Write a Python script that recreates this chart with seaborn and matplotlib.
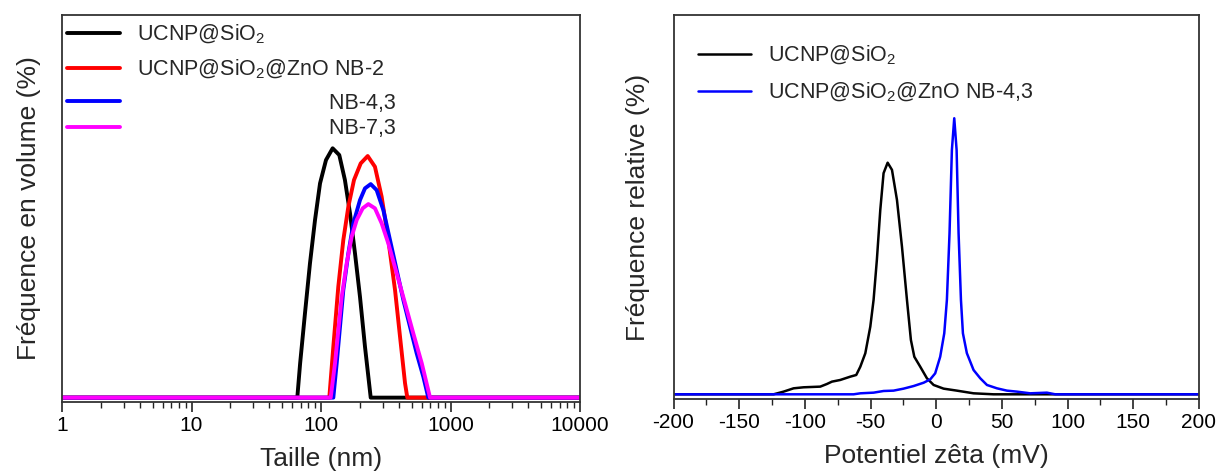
import numpy as np
import pandas as pd
import matplotlib
matplotlib.use("Agg")
import matplotlib.pyplot as plt
import seaborn as sns
from matplotlib.ticker import LogLocator, MultipleLocator, NullFormatter, FixedLocator
from matplotlib.lines import Line2D

# ---------------- data (left: DLS volume distribution) ----------------
size_black = [1, 65.6, 69, 75.2, 82.2, 89.9, 98.3, 109.3, 123, 138.4, 153, 167.5, 183, 200, 218.6, 242, 10000]
vol_black = [0, 0, 2.75, 6.75, 10.76, 14.23, 17.17, 19.04, 19.98, 19.44, 17.44, 14.77, 11.56, 8.08, 4.08, 0, 0]

size_red = [1, 115.9, 124.5, 136, 148.7, 162.6, 179.8, 202.6, 229.4, 261, 294, 331, 373, 407.6, 445.6, 464, 10000]
vol_red = [0, 0, 4.08, 8.89, 12.63, 15.3, 17.44, 18.77, 19.36, 18.5, 16.1, 12.63, 8.62, 4.88, 1.15, 0, 0]

size_blue = [1, 124.5, 132.2, 140.2, 148.7, 162.6, 177.8, 200, 218.6, 242, 269, 303, 341, 384, 432.5, 486.8, 548, 617, 674, 10000]
vol_blue = [0, 0, 2.75, 5.68, 8.62, 11.56, 13.97, 15.83, 16.77, 17.11, 16.63, 15.03, 12.63, 10.22, 7.82, 5.68, 3.55, 1.67, 0, 0]

size_mag = [1, 118.8, 128.3, 136.2, 144.5, 157.9, 172.6, 188.6, 209.9, 232, 261, 294, 331, 384, 445.6, 516, 600, 695, 10000]
vol_mag = [0, 0, 2.75, 5.42, 8.08, 10.76, 12.9, 14.23, 15.17, 15.51, 15.17, 13.97, 12.36, 9.96, 7.56, 5.15, 2.75, 0, 0]

# ---------------- data (right: zeta potential) ----------------
zeta_black = [-200, -123.8, -116.2, -108.6, -101, -88.3, -83.2, -79.4, -73.1, -65.4, -60.9, -57.8, -54, -50.2,
              -47.7, -45.2, -42.6, -40.1, -37, -33.7, -29.9, -26.1, -22.3, -19.3, -16.7, -12.2, -7.1, -2,
              5.6, 15.7, 28.4, 43.6, 200]
freq_black = [0, 0, 0.97, 2.17, 2.54, 2.78, 3.74, 4.59, 5.19, 6.4, 7.0, 10.0, 14.86, 24.5,
              34.2, 48.7, 66.8, 80.1, 83.9, 81.3, 70.4, 53.5, 34.2, 19.7, 13.6, 10.0, 5.8, 3.38,
              2.05, 1.33, 0.36, 0, 0]

zeta_blue = [-200, -62.9, -57.8, -47.7, -40.1, -32.5, -24.9, -17.2, -9.6, -4.6, -0.8, 3.0, 6.1, 8.1, 10.1,
             11.9, 13.7, 15.5, 17.0, 18.8, 20.3, 23.3, 28.4, 33.5, 38.6, 46.2, 53.8, 61.4, 71.5, 84.2, 90.6, 200]
freq_blue = [0, 0, 0.36, 0.6, 1.2, 1.33, 2.05, 3.0, 4.2, 5.4, 7.6, 13.6, 22.1, 34.2, 58.3,
             88.5, 100, 88.5, 58.3, 34.2, 22.1, 14.9, 8.8, 5.8, 3.38, 2.17, 1.33, 0.97, 0.36, 0.6, 0, 0]

left_labels = ["UCNP@SiO$_\\mathregular{2}$", "UCNP@SiO$_\\mathregular{2}$@ZnO NB-2",
               " " * 32 + "NB-4,3", " " * 32 + "NB-7,3"]
right_labels = ["UCNP@SiO$_\\mathregular{2}$", "UCNP@SiO$_\\mathregular{2}$@ZnO NB-4,3"]
left_colors = ["#000000", "#ff0000", "#0000ff", "#ff00ff"]
right_colors = ["#000000", "#0000ff"]
left_ticks = [1, 10, 100, 1000, 10000]
left_ticklabels = ["1", "10", "100", "1000", "10000"]
right_ticks = [-200, -150, -100, -50, 0, 50, 100, 150, 200]

# ---------------- style ----------------
sns.set_theme(style="ticks")
plt.rcParams["font.family"] = ["Liberation Sans", "DejaVu Sans"]
plt.rcParams["mathtext.fontset"] = "custom"
plt.rcParams["mathtext.rm"] = "Liberation Sans"
plt.rcParams["mathtext.it"] = "Liberation Sans"
plt.rcParams["mathtext.bf"] = "Liberation Sans:bold"

W, H = 1217, 474
fig = plt.figure(figsize=(W / 100, H / 100), dpi=100)
axL = fig.add_axes([62 / W, (H - 402) / H, (580 - 62) / W, (402 - 15) / H])
axR = fig.add_axes([673.5 / W, (H - 399) / H, (1199 - 673.5) / W, (399 - 15) / H])

FS_TICK = 15
FS_LAB = 19
FS_LEG = 15.5


def fig_xy(px, py):
    return (px / W, (H - py) / H)


# left panel
series_left = [(size_black, vol_black), (size_red, vol_red), (size_blue, vol_blue), (size_mag, vol_mag)]
for (xs, ys), c in zip(series_left, left_colors):
    df = pd.DataFrame({"x": xs, "y": ys})
    sns.lineplot(data=df, x="x", y="y", ax=axL, color=c, lw=2.8, sort=False, estimator=None)
axL.set_xscale("log")
axL.set_xlim(1, 10000)
axL.set_ylim(-0.35, 30.66)
axL.xaxis.set_major_locator(FixedLocator(left_ticks))
axL.set_xticklabels(left_ticklabels)
axL.xaxis.set_minor_locator(LogLocator(base=10, subs=np.arange(2, 10)))
axL.xaxis.set_minor_formatter(NullFormatter())
axL.set_yticks([])
axL.set_xlabel("Taille (nm)", fontsize=FS_LAB, labelpad=9)
axL.set_ylabel("Fréquence en volume (%)", fontsize=FS_LAB, labelpad=15)
handlesL = [Line2D([], [], color=c, lw=2.8) for c in left_colors]
legA = axL.legend(handlesL[:2], left_labels[:2], loc="center left", bbox_to_anchor=fig_xy(67, 52),
                  bbox_transform=fig.transFigure, frameon=False, fontsize=FS_LEG, handlelength=2.45,
                  handletextpad=0.8, labelspacing=0.58, borderaxespad=0, borderpad=0)
axL.add_artist(legA)
axL.legend(handlesL[2:], left_labels[2:], loc="center left", bbox_to_anchor=fig_xy(67, 116),
           bbox_transform=fig.transFigure, frameon=False, fontsize=FS_LEG, handlelength=2.45,
           handletextpad=0.8, labelspacing=0.21, borderaxespad=0, borderpad=0)

# right panel
series_right = [(zeta_black, freq_black), (zeta_blue, freq_blue)]
for (xs, ys), c in zip(series_right, right_colors):
    df = pd.DataFrame({"x": xs, "y": ys})
    sns.lineplot(data=df, x="x", y="y", ax=axR, color=c, lw=1.8, sort=False, estimator=None)
axR.set_xlim(-200, 200)
axR.set_ylim(-1.7, 137.4)
axR.set_xticks(right_ticks)
axR.set_xticklabels([str(t) for t in right_ticks])
axR.xaxis.set_minor_locator(MultipleLocator(25))
axR.set_yticks([])
axR.set_xlabel("Potentiel zêta (mV)", fontsize=FS_LAB, labelpad=9)
axR.set_ylabel("Fréquence relative (%)", fontsize=FS_LAB, labelpad=17)
handlesR = [Line2D([], [], color=c, lw=1.8) for c in right_colors]
axR.legend(handlesR, right_labels, loc="center left", bbox_to_anchor=fig_xy(698, 74),
           bbox_transform=fig.transFigure, frameon=False, fontsize=FS_LEG, handlelength=2.45,
           handletextpad=0.8, labelspacing=0.63, borderaxespad=0, borderpad=0)

for ax in (axL, axR):
    for s in ax.spines.values():
        s.set_visible(True)
        s.set_color("#333333")
        s.set_linewidth(1.3)
    ax.tick_params(axis="x", which="major", direction="out", length=7, width=1.2,
                   labelsize=FS_TICK, colors="#222222", labelcolor="black", pad=3)
    ax.tick_params(axis="x", which="minor", direction="out", length=4, width=1.0, colors="#222222")

fig.savefig("out.png", dpi=100)
